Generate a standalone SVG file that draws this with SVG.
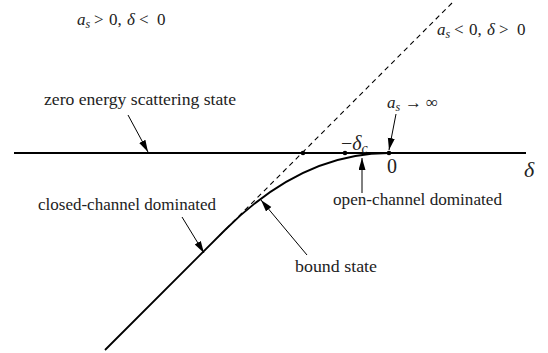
<svg xmlns="http://www.w3.org/2000/svg" width="548" height="353" viewBox="0 0 548 353">
<defs>
<style>
.axis{stroke:#000;stroke-width:2;fill:none;}
.curve{stroke:#000;stroke-width:1.8;fill:none;}
.dash{stroke:#000;stroke-width:1.1;stroke-dasharray:5,4;fill:none;}
.arr{stroke:#000;stroke-width:1;fill:none;}
</style>
<marker id="ah" markerUnits="userSpaceOnUse" markerWidth="12" markerHeight="8" refX="12" refY="3.5" orient="auto">
<path d="M0,0 L12,3.5 L0,7 z" fill="#000"/>
</marker>
</defs>
<rect width="548" height="353" fill="#fff"/>
<g id="axis">
<line class="axis" x1="14" y1="153" x2="526" y2="153"/>
<circle cx="303" cy="153" r="2.3"/>
<circle cx="345" cy="153" r="2.3"/>
<circle cx="389" cy="153" r="2.3"/>
</g>
<g id="asymptote">
<line class="dash" x1="452" y1="3" x2="218" y2="237"/>
</g>
<g id="bound-curve">
<path class="curve" d="M105,350 L225,230 Q302,153 389,153"/>
</g>
<g id="connectors">
<line class="arr" x1="128" y1="115" x2="148" y2="152" marker-end="url(#ah)"/>
<line class="arr" x1="396" y1="114" x2="389" y2="150" marker-end="url(#ah)"/>
<line class="arr" x1="362" y1="193" x2="362" y2="158" marker-end="url(#ah)"/>
<line class="arr" x1="182" y1="217" x2="204" y2="253" marker-end="url(#ah)"/>
<line class="arr" x1="307" y1="255" x2="261" y2="200" marker-end="url(#ah)"/>
</g>
<g id="label-positive" font-family="Liberation Serif, serif" font-size="17" fill="#222">
<text x="77" y="25"><tspan font-style="italic">a</tspan><tspan font-style="italic" font-size="12" dy="3">s</tspan><tspan dy="-3" x="94">&gt;</tspan><tspan x="109">0,</tspan><tspan font-style="italic" x="127">δ</tspan><tspan x="139">&lt;</tspan><tspan x="157">0</tspan></text>
</g>
<g id="label-negative" font-family="Liberation Serif, serif" font-size="17" fill="#222">
<text x="437" y="35"><tspan font-style="italic">a</tspan><tspan font-style="italic" font-size="12" dy="3">s</tspan><tspan dy="-3" x="454">&lt;</tspan><tspan x="469">0,</tspan><tspan font-style="italic" x="487">δ</tspan><tspan x="499">&gt;</tspan><tspan x="517">0</tspan></text>
</g>
<g id="label-infinity" font-family="Liberation Serif, serif" font-size="17" fill="#222">
<text x="387" y="108"><tspan font-style="italic">a</tspan><tspan font-style="italic" font-size="12" dy="3">s</tspan><tspan dy="-3" x="405">→</tspan><tspan x="426">∞</tspan></text>
</g>
<g id="label-scattering" font-family="Liberation Serif, serif" font-size="17" fill="#222">
<text x="44" y="105" textLength="192" lengthAdjust="spacingAndGlyphs">zero energy scattering state</text>
</g>
<g id="label-closed" font-family="Liberation Serif, serif" font-size="17" fill="#222">
<text x="38" y="210" textLength="178" lengthAdjust="spacingAndGlyphs">closed-channel dominated</text>
</g>
<g id="label-open" font-family="Liberation Serif, serif" font-size="17" fill="#222">
<text x="333" y="205" textLength="169" lengthAdjust="spacingAndGlyphs">open-channel dominated</text>
</g>
<g id="label-bound" font-family="Liberation Serif, serif" font-size="17" fill="#222">
<text x="295" y="272" textLength="82" lengthAdjust="spacingAndGlyphs">bound state</text>
</g>
<g id="label-deltac" font-family="Liberation Serif, serif" font-size="20" fill="#222">
<text x="341" y="150"><tspan>−</tspan><tspan font-style="italic">δ</tspan><tspan font-style="italic" font-size="14" dy="3">c</tspan></text>
</g>
<g id="label-zero" font-family="Liberation Serif, serif" font-size="20" fill="#222">
<text x="392" y="173" text-anchor="middle">0</text>
</g>
<g id="label-delta" font-family="Liberation Serif, serif" font-size="22" fill="#222">
<text x="524" y="177" font-style="italic">δ</text>
</g>
</svg>
